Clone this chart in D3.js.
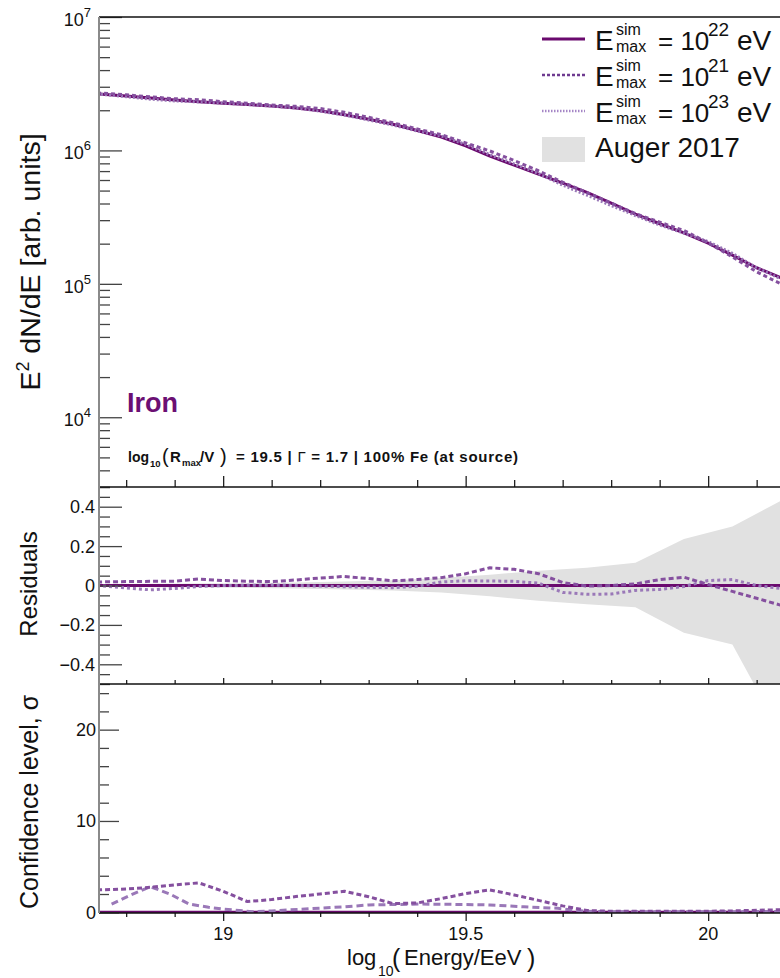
<!DOCTYPE html>
<html><head><meta charset="utf-8">
<script src="https://cdn.jsdelivr.net/npm/d3@7"></script>
<style>
body{margin:0;background:#fff;}
svg{display:block;font-family:"Liberation Sans",Arial,Helvetica,sans-serif;}
</style></head><body>
<svg id="c" width="780" height="978"></svg>
<script>
// ---- data -------------------------------------------------------------
// log10(E/eV) grid shared by the simulated spectra
const energies = [18.74,18.80,18.85,18.90,18.95,19.00,19.05,19.10,19.15,19.20,
                  19.25,19.30,19.35,19.40,19.45,19.50,19.55,19.60,19.65,19.70,
                  19.75,19.80,19.85,19.90,19.95,20.00,20.05,20.10,20.15,20.20];

// E^2 dN/dE for the three maximum simulated energies
const flux22 = [2.65e6,2.56e6,2.47e6,2.39e6,2.32e6,2.26e6,2.21e6,2.15e6,2.08e6,1.98e6,
                1.85e6,1.71e6,1.57e6,1.41e6,1.26e6,1.08e6,9.08e5,7.76e5,6.64e5,5.69e5,
                4.84e5,4.03e5,3.33e5,2.82e5,2.41e5,2.02e5,1.64e5,1.32e5,1.11e5,9.10e4];
const flux21 = [2.70e6,2.61e6,2.52e6,2.44e6,2.40e6,2.32e6,2.26e6,2.19e6,2.14e6,2.06e6,
                1.93e6,1.77e6,1.61e6,1.45e6,1.31e6,1.14e6,9.90e5,8.40e5,7.04e5,5.78e5,
                4.83e5,4.03e5,3.36e5,2.90e5,2.51e5,2.03e5,1.59e5,1.23e5,9.99e4,7.92e4];
const flux23 = [2.65e6,2.53e6,2.42e6,2.35e6,2.31e6,2.26e6,2.21e6,2.15e6,2.08e6,1.97e6,
                1.84e6,1.69e6,1.55e6,1.40e6,1.28e6,1.11e6,9.29e5,7.92e5,6.72e5,5.49e5,
                4.62e5,3.86e5,3.25e5,2.76e5,2.40e5,2.07e5,1.69e5,1.32e5,1.09e5,8.74e4];

// residuals relative to the 10^22 eV spectrum
const resid22 = [0,0,0,0,0,0,0,0,0,0,0,0,0,0,0,0,0,0,0,0,0,0,0,0,0,0,0,0,0,0];
const resid21 = [0.018,0.020,0.021,0.022,0.033,0.025,0.022,0.020,0.028,0.038,
                 0.046,0.035,0.024,0.030,0.040,0.060,0.090,0.082,0.060,0.015,
                 -0.003,0.000,0.008,0.030,0.042,0.005,-0.030,-0.065,-0.100,-0.130];
const resid23 = [0.000,-0.012,-0.022,-0.015,-0.005,0.000,0.001,0.002,0.000,-0.003,
                 -0.006,-0.009,-0.011,-0.004,0.018,0.024,0.023,0.021,0.012,-0.035,
                 -0.045,-0.043,-0.025,-0.020,-0.005,0.025,0.030,0.000,-0.015,-0.040];

// Auger 2017 relative uncertainty band
const bandE   = [18.65,18.75,18.85,18.95,19.05,19.15,19.25,19.35,19.45,19.55,19.65,19.75,19.85,19.95,20.05,20.15,20.25];
const bandUp  = [0.008,0.008,0.009,0.010,0.012,0.015,0.020,0.027,0.038,0.055,0.075,0.090,0.116,0.236,0.300,0.430,0.560];
const bandLow = [-0.008,-0.008,-0.009,-0.010,-0.012,-0.015,-0.020,-0.026,-0.036,-0.055,-0.078,-0.095,-0.110,-0.240,-0.300,-0.750,-1.200];

// confidence level (sigma)
const sigma22 = [0,0,0,0,0,0,0,0,0,0,0,0,0,0,0,0,0,0,0,0,0,0,0,0,0,0,0,0,0,0];
const sigma21 = [2.45,2.55,2.73,3.00,3.22,2.30,1.17,1.40,1.72,2.00,
                 2.30,1.70,0.95,1.02,1.50,2.05,2.45,1.90,1.30,0.70,
                 0.20,0.10,0.10,0.10,0.12,0.12,0.15,0.22,0.28,0.35];
const sigmaE23 = [18.77,18.81,18.85,18.89,18.93,18.97,19.00,19.06,19.10,19.16,19.25,19.30,
                  19.41,19.50,19.55,19.62,19.69,19.72,19.75,19.80,19.90,20.00,20.10,20.20];
const sigma23  = [0.90,1.90,2.80,2.00,0.90,0.55,0.35,0.07,0.15,0.33,0.60,0.80,
                  0.90,0.85,0.80,0.60,0.44,0.25,0.10,0.05,0.05,0.05,0.08,0.10];

// axis ticks
const xMajor = [19, 19.5, 20];
const xMajorLabels = ["19", "19.5", "20"];
const xMinor = [18.8,18.9,19.1,19.2,19.3,19.4,19.6,19.7,19.8,19.9,20.1,20.2];
const yTopMajor = [1e4, 1e5, 1e6, 1e7];
const yTopExp = ["4", "5", "6", "7"];
const resMajor = [-0.4,-0.2,0,0.2,0.4];
const resMinor = [-0.5,-0.45,-0.35,-0.3,-0.25,-0.15,-0.1,-0.05,0.05,0.1,0.15,0.25,0.3,0.35,0.45,0.5];
const sigMajor = [0, 10, 20];
const sigMinor = [2,4,6,8,12,14,16,18,22,24];

const legendExp = ["22", "21", "23"];

// ---- layout -----------------------------------------------------------
const svg = d3.select("#c");
const L = 99, XR = 829;
const x = d3.scaleLinear().domain([18.744, 20.25]).range([L, L + (20.25 - 18.744) * 485]);
const yTop = d3.scaleLog().domain([3000, 1e7]).range([487, 17]);
const yRes = d3.scaleLinear().domain([-0.5, 0.5]).range([684, 487]);
const ySig = d3.scaleLinear().domain([-0.08, 25]).range([913, 684]);

const C22 = "#6a0a6e", C21 = "#85509f", C23 = "#9a78b8", BAND = "#e1e1e1";

const defs = svg.append("defs");
function clip(id, y0, y1) {
  defs.append("clipPath").attr("id", id).append("rect")
    .attr("x", L).attr("y", y0).attr("width", XR - L).attr("height", y1 - y0);
}
clip("cTop", 17, 487); clip("cRes", 487, 684); clip("cSig", 684, 913);

function drawLine(g, xs, ys, y, color, width, dash) {
  const ln = d3.line().x(d => x(d[0])).y(d => y(d[1]));
  g.append("path").datum(d3.zip(xs, ys)).attr("d", ln)
    .attr("fill", "none").attr("stroke", color).attr("stroke-width", width)
    .attr("stroke-dasharray", dash || null).attr("stroke-linejoin", "round");
}

// ---- top panel: spectra ----------------------------------------------
const gTop = svg.append("g").attr("clip-path", "url(#cTop)");
drawLine(gTop, energies, flux22, yTop, C22, 3);
drawLine(gTop, energies, flux23, yTop, C23, 3, "2,2");
drawLine(gTop, energies, flux21, yTop, C21, 3, "4,3");

// ---- residual panel ---------------------------------------------------
const gRes = svg.append("g").attr("clip-path", "url(#cRes)");
gRes.append("path").datum(d3.zip(bandE, bandLow, bandUp))
  .attr("d", d3.area().x(d => x(d[0])).y0(d => yRes(d[1])).y1(d => yRes(d[2])))
  .attr("fill", BAND);
drawLine(gRes, energies, resid22, yRes, C22, 3);
drawLine(gRes, energies, resid23, yRes, C23, 3, "3,3");
drawLine(gRes, energies, resid21, yRes, C21, 3, "5,3");

// ---- confidence panel -------------------------------------------------
const gSig = svg.append("g").attr("clip-path", "url(#cSig)");
drawLine(gSig, energies, sigma22, ySig, C22, 3);
drawLine(gSig, sigmaE23, sigma23, ySig, C23, 3, "7,4");
drawLine(gSig, energies, sigma21, ySig, C21, 3, "5,3");

// ---- axes -------------------------------------------------------------
function styleTicks(g, color, w) {
  g.select(".domain").remove();
  g.selectAll(".tick line").attr("stroke", color).attr("stroke-width", w);
  g.selectAll(".tick text").remove();
}
// log-axis minor ticks
const topMinor = [];
[1e3, 1e4, 1e5, 1e6].forEach(dec => { for (let k = 2; k <= 9; k++) { const v = k * dec; if (v >= 3000 && v < 1e7) topMinor.push(v); } });

function yAxis(scale, major, minor, majLen, minLen) {
  const a = svg.append("g").attr("transform", `translate(${L},0)`)
    .call(d3.axisLeft(scale).tickValues(major).tickSize(-majLen).tickSizeOuter(0));
  styleTicks(a, "#444", 1.3);
  const b = svg.append("g").attr("transform", `translate(${L},0)`)
    .call(d3.axisLeft(scale).tickValues(minor).tickSize(-minLen).tickSizeOuter(0));
  styleTicks(b, "#444", 1.3);
}
yAxis(yTop, yTopMajor, topMinor, 23, 11);
yAxis(yRes, resMajor, resMinor, 23, 11);
yAxis(ySig, sigMajor, sigMinor, 20, 10);

function xAxis(y0, majLen, minLen) {
  const a = svg.append("g").attr("transform", `translate(0,${y0})`)
    .call(d3.axisBottom(x).tickValues(xMajor).tickSize(majLen).tickSizeOuter(0));
  styleTicks(a, "#222", 1.3);
  const b = svg.append("g").attr("transform", `translate(0,${y0})`)
    .call(d3.axisBottom(x).tickValues(xMinor).tickSize(minLen).tickSizeOuter(0));
  styleTicks(b, "#222", 1.3);
}
xAxis(487, -11, -7);
xAxis(684, -6, -4);
xAxis(913, 8, 4);

// frame lines
[17, 487, 684, 913].forEach(yy => {
  svg.append("line").attr("x1", L).attr("x2", XR).attr("y1", yy).attr("y2", yy)
    .attr("stroke", "#111").attr("stroke-width", 1.5);
});
svg.append("line").attr("x1", L).attr("x2", L).attr("y1", 17).attr("y2", 913)
  .attr("stroke", "#8a8a8a").attr("stroke-width", 2);

// tick labels
const lab = svg.append("g").attr("fill", "#111");
yTopMajor.forEach((v, i) => {
  const t = lab.append("text").attr("x", 91).attr("y", yTop(v) + 9)
    .attr("text-anchor", "end").attr("font-size", 18);
  t.append("tspan").text("10");
  t.append("tspan").attr("dy", -9).attr("font-size", 13).text(yTopExp[i]);
});
const fmtRes = d3.format(".1f");
resMajor.forEach(v => {
  lab.append("text").attr("x", 95).attr("y", yRes(v) + 6.5).attr("text-anchor", "end")
    .attr("font-size", 18).text(v === 0 ? "0" : fmtRes(v));
});
sigMajor.forEach(v => {
  lab.append("text").attr("x", 96).attr("y", ySig(v) + 6.5).attr("text-anchor", "end")
    .attr("font-size", 18).text(String(v));
});
xMajor.forEach((v, i) => {
  lab.append("text").attr("x", x(v)).attr("y", 940).attr("text-anchor", "middle")
    .attr("font-size", 18).text(xMajorLabels[i]);
});

// axis titles
const t1 = svg.append("text").attr("transform", "translate(40,262) rotate(-90)")
  .attr("text-anchor", "middle").attr("font-size", 28.5).attr("fill", "#111");
t1.append("tspan").text("E");
t1.append("tspan").attr("dy", -11).attr("font-size", 18).text("2");
t1.append("tspan").attr("dy", 11).text(" dN/dE [arb. units]");
svg.append("text").attr("transform", "translate(37,584) rotate(-90)")
  .attr("text-anchor", "middle").attr("font-size", 24).attr("fill", "#111").text("Residuals");
svg.append("text").attr("transform", "translate(38,802) rotate(-90)")
  .attr("text-anchor", "middle").attr("font-size", 25).attr("fill", "#111").text("Confidence level, σ");

const xt = svg.append("g").attr("fill", "#111");
xt.append("text").attr("x", 347).attr("y", 965).attr("font-size", 22).text("log");
xt.append("text").attr("x", 378).attr("y", 976).attr("font-size", 14).text("10");
xt.append("text").attr("x", 392).attr("y", 967).attr("font-size", 25).attr("font-weight", 300).text("(");
xt.append("text").attr("x", 404).attr("y", 965).attr("font-size", 22).text("Energy/EeV");
xt.append("text").attr("x", 527).attr("y", 967).attr("font-size", 25).attr("font-weight", 300).text(")");

// panel annotations
svg.append("text").attr("x", 127).attr("y", 412).attr("font-size", 27).attr("font-weight", "bold")
  .attr("fill", "#6b0f73").text("Iron");
const st = svg.append("g").attr("fill", "#111").attr("font-weight", "bold");
st.append("text").attr("x", 128).attr("y", 462).attr("font-size", 14).text("log");
st.append("text").attr("x", 150).attr("y", 467).attr("font-size", 9.5).text("10");
st.append("text").attr("x", 162).attr("y", 463).attr("font-size", 20).attr("font-weight", "normal").text("(");
st.append("text").attr("x", 170).attr("y", 462).attr("font-size", 15).text("R");
st.append("text").attr("x", 182).attr("y", 466).attr("font-size", 9.5).text("max");
st.append("text").attr("x", 200).attr("y", 462).attr("font-size", 15).text("/V");
st.append("text").attr("x", 220).attr("y", 463).attr("font-size", 20).attr("font-weight", "normal").text(")");
const rest = st.append("text").attr("x", 236).attr("y", 462).attr("font-size", 15)
  .attr("textLength", 282).attr("lengthAdjust", "spacing");
rest.append("tspan").text("= 19.5 | ");
rest.append("tspan").attr("font-weight", "normal").text("Γ");
rest.append("tspan").text(" = 1.7 | 100% Fe (at source)");

// ---- legend -----------------------------------------------------------
const lg = svg.append("g").attr("fill", "#111");
const legStyle = [
  { c: C22, dash: null, w: 3 },
  { c: "#6e3a90", dash: "3,2", w: 2.5 },
  { c: "#a586c6", dash: "1.5,1.5", w: 2.5 }
];
legendExp.forEach((e, i) => {
  const b = 50 + i * 36;
  const s = legStyle[i];
  lg.append("line").attr("x1", 542).attr("x2", 585).attr("y1", b - 11).attr("y2", b - 11)
    .attr("stroke", s.c).attr("stroke-width", s.w).attr("stroke-dasharray", s.dash);
  lg.append("text").attr("x", 595).attr("y", b).attr("font-size", 28).text("E");
  lg.append("text").attr("x", 616).attr("y", b - 15).attr("font-size", 16).text("sim");
  lg.append("text").attr("x", 616).attr("y", b + 2).attr("font-size", 16).text("max");
  lg.append("text").attr("x", 658).attr("y", b).attr("font-size", 26).text("= 10");
  lg.append("text").attr("x", 708).attr("y", b - 14).attr("font-size", 19).text(e);
  lg.append("text").attr("x", 737).attr("y", b).attr("font-size", 28).text("eV");
});
lg.append("rect").attr("x", 542).attr("y", 137).attr("width", 43).attr("height", 25).attr("fill", BAND);
lg.append("text").attr("x", 595).attr("y", 157).attr("font-size", 28).text("Auger 2017");
</script>
</body></html>
